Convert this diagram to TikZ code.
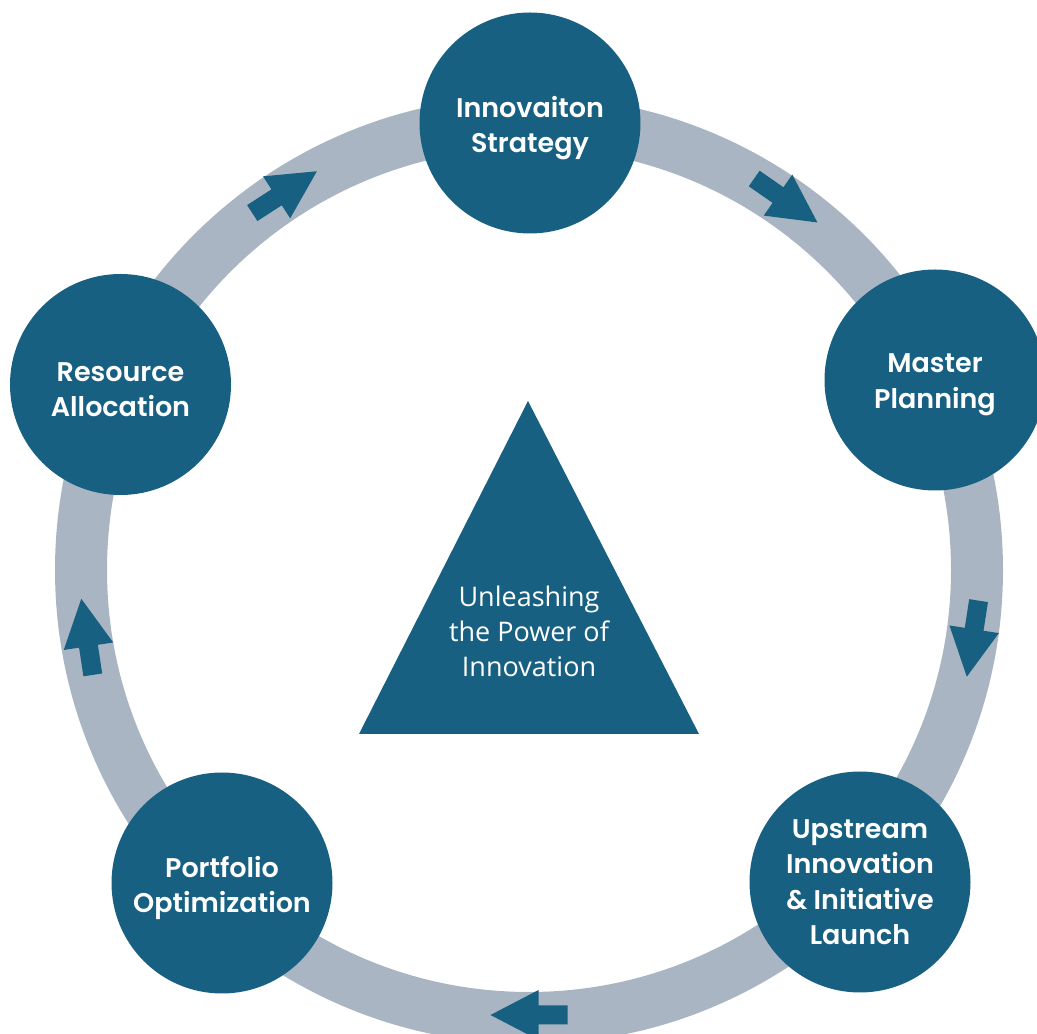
\documentclass[tikz,border=0pt]{standalone}
\usepackage{fontspec}
\newfontfamily\labelfont{Poppins}[UprightFont={* SemiBold}]
\newfontfamily\corefont{Open Sans}
\definecolor{cycleblue}{HTML}{176082}
\definecolor{ringgray}{HTML}{A9B5C2}
\tikzset{
  ring/.style={draw=ringgray, line width=52pt},
  stage/.style={circle, fill=cycleblue, minimum size=221pt, inner sep=0pt},
  stagetext/.style={text=white, align=center, inner sep=0pt,
    font=\labelfont\fontsize{27}{35.5}\selectfont},
  corelabel/.style={text=white, align=center, inner sep=0pt,
    font=\corefont\fontsize{27}{35}\selectfont},
  flowarrow/.style={fill=cycleblue}
}
\begin{document}
\begin{tikzpicture}[x=1pt, y=1pt]
  \useasboundingbox (0,0) rectangle (1037,1034);
  \clip (0,0) rectangle (1037,1034);

  % cycle ring
  \coordinate (hub) at (529,464);
  \draw[ring] (hub) circle[radius=448];

  % direction arrows along the ring (clockwise)
  \foreach \a/\r in {122.9/450, 55.2/450, -8.8/449, -90/445, 188.6/447} {
    \fill[flowarrow, shift={(hub)}, rotate=\a, xshift=\r pt, rotate=-90]
      (38.5,0) -- (-9.5,25) -- (-9.5,9.5) -- (-38.5,9.5)
      -- (-38.5,-9.5) -- (-9.5,-9.5) -- (-9.5,-25) -- cycle;
  }

  % stages
  \node[stage] (strategy)  at (530,911)     {};
  \node[stage] (planning)  at (935,654)     {};
  \node[stage] (upstream)  at (860,152)     {};
  \node[stage] (portfolio) at (222,151)     {};
  \node[stage] (resource)  at (120.5,649.5) {};

  \node[stagetext] (strategy-label)  at ([yshift=-5pt]strategy.center)  {Innovaiton\\Strategy};
  \node[stagetext] (planning-label)  at ([yshift=-5pt]planning.center)  {Master\\Planning};
  \node[stagetext] (upstream-label)  at (upstream.center)               {Upstream\\Innovation\\\& Initiative\\Launch};
  \node[stagetext] (portfolio-label) at ([yshift=-5pt]portfolio.center) {Portfolio\\Optimization};
  \node[stagetext] (resource-label)  at ([yshift=-5pt]resource.center)  {Resource\\Allocation};

  % central triangle
  \fill[cycleblue] (528,633) -- (699,300) -- (359,300) -- cycle;
  \node[corelabel] (core) at (529,403) {Unleashing\\the Power of\\Innovation};
\end{tikzpicture}
\end{document}
